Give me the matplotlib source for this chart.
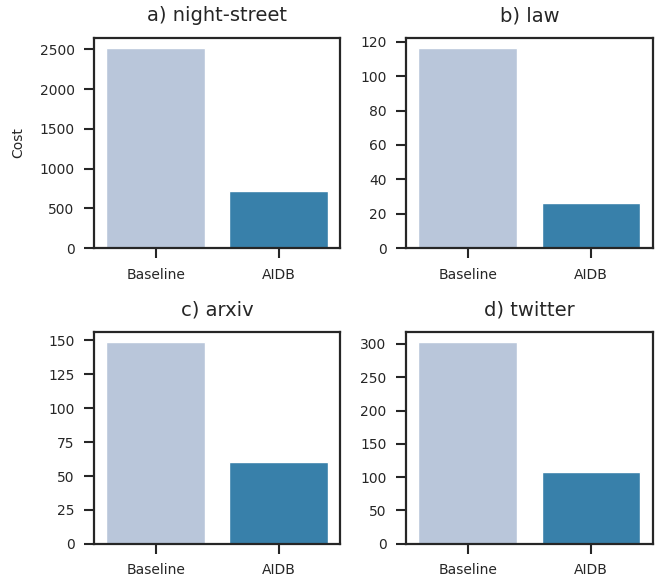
import matplotlib
matplotlib.use("Agg")
import matplotlib.pyplot as plt
import seaborn as sns

sns.set_theme(style="ticks")
plt.rcParams['font.family'] = ['DejaVu Sans']

methods = ['Baseline', 'AIDB']
titles = ['a) night-street', 'b) law', 'c) arxiv', 'd) twitter']
night_street = [2520, 720]
law = [116.5, 26]
arxiv = [149, 60]
twitter = [303, 108]
colors = ['#b9c6da', '#3880aa']

all_costs = [night_street, law, arxiv, twitter]

fig = plt.figure(figsize=(6.58, 5.81), dpi=100)
# axes boxes in figure fractions (left, bottom, width, height)
boxes = [
    (0.143, 0.573, 0.374, 0.362),
    (0.617, 0.573, 0.375, 0.362),
    (0.143, 0.064, 0.374, 0.365),
    (0.617, 0.064, 0.375, 0.365),
]

for i in range(0, 4):
    ax = fig.add_axes(boxes[i])
    ax.bar(methods, all_costs[i], width=0.8, color=colors, edgecolor='white', linewidth=1)
    ax.set_xlim(-0.5, 1.5)
    ax.set_title(titles[i], fontsize=14, pad=12, color='#262626')
    ax.tick_params(axis='both', labelsize=10, length=7, width=1.5, pad=7, colors='#262626')
    for s in ax.spines.values():
        s.set_linewidth(1.6)
        s.set_color('#262626')
    if i == 0:
        ax.set_ylabel('Cost', fontsize=10, labelpad=10)

ax_list = fig.axes
ax_list[0].set_yticks([0, 500, 1000, 1500, 2000, 2500])
ax_list[1].set_yticks([0, 20, 40, 60, 80, 100, 120])
ax_list[2].set_yticks([0, 25, 50, 75, 100, 125, 150])
ax_list[3].set_yticks([0, 50, 100, 150, 200, 250, 300])

fig.savefig('out.png', dpi=100)
